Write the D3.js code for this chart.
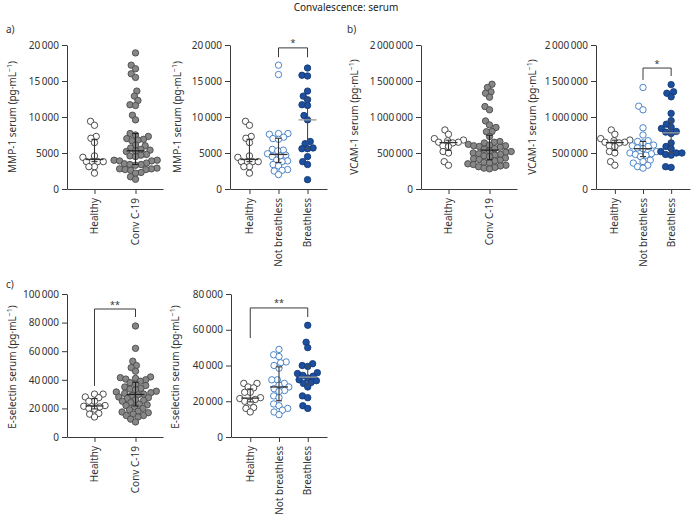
<!DOCTYPE html>
<html><head><meta charset="utf-8">
<script src="https://cdn.jsdelivr.net/npm/d3@7"></script>
<style>body{margin:0;background:#fff}svg{display:block}text{font-family:"Noto Sans",sans-serif}</style>
</head><body><svg id="chart" width="692" height="515"></svg>
<script>
// ---------------- DATA ----------------
const figureTitle = "Convalescence: serum";
const catsTwo = ["Healthy", "Conv C-19"];
const catsThree = ["Healthy", "Not breathless", "Breathless"];

const mmpTicks = [0, 5000, 10000, 15000, 20000];
const vcamTicks = [0, 500000, 1000000, 1500000, 2000000];
const eselTicksA = [0, 20000, 40000, 60000, 80000, 100000];
const eselTicksB = [0, 20000, 40000, 60000, 80000];

const mmpHealthy = [9400, 8850, 7300, 7050, 6450, 4600, 4400, 3800, 3800, 3800, 3800, 3100, 3100, 2200];
const mmpConv = [18900, 17200, 16700, 16000, 15500, 13600, 12900, 12300, 11700, 11600, 10250, 9600,
  7700, 7500, 7300, 7000, 6900, 6800, 6700, 6100, 6000, 5700, 5500, 5400, 5300, 5200, 4800, 4700, 4600,
  4500, 4000, 4000, 3900, 3900, 3600, 3500, 3400, 3400, 3300, 2900, 2800, 2800, 2700, 2700, 2600, 2300,
  2200, 1700, 1350];
const mmpNotBreathless = [17200, 15900, 7700, 7700, 7600, 7200, 7000, 6900, 5500, 5400, 5300, 4900, 4700,
  4600, 4500, 4000, 3900, 3800, 3400, 3200, 2700, 2600, 2500, 2000];
const mmpBreathless = [16800, 15800, 15700, 13600, 12900, 12400, 11700, 11600, 10200, 9600, 6600, 6300,
  5700, 5600, 5600, 4500, 3800, 3400, 1300];

const vcamHealthy = [820000, 760000, 700000, 680000, 670000, 650000, 650000, 640000, 600000, 590000,
  520000, 500000, 380000, 330000];
const vcamConv = [1455000, 1410000, 1350000, 1330000, 1275000, 1145000, 1100000, 945000, 890000, 855000,
  800000, 795000, 730000, 660000, 650000, 640000, 620000, 610000, 600000, 600000, 590000, 580000, 560000,
  550000, 530000, 520000, 510000, 500000, 490000, 480000, 470000, 460000, 450000, 430000, 420000, 410000,
  400000, 390000, 370000, 360000, 350000, 340000, 330000, 320000, 310000, 300000, 290000, 280000];
const vcamNotBreathless = [1410000, 1150000, 1100000, 850000, 750000, 670000, 660000, 640000, 610000,
  600000, 590000, 570000, 560000, 520000, 500000, 490000, 480000, 470000, 450000, 400000, 380000, 360000,
  330000, 310000, 290000];
const vcamBreathless = [1450000, 1350000, 1330000, 1280000, 1050000, 950000, 900000, 860000, 840000,
  800000, 790000, 770000, 640000, 590000, 560000, 520000, 500000, 500000, 480000, 470000, 310000, 300000];

const eselHealthy = [30000, 30000, 28000, 27500, 25000, 25000, 22000, 21500, 21000, 20000, 19500, 16500,
  16000, 14000];
const eselConv = [77600, 62000, 53000, 50000, 48500, 46000, 42000, 41500, 41000, 40500, 40000, 39000,
  38000, 37000, 36000, 35000, 34000, 33500, 33000, 32000, 31500, 31000, 30500, 30000, 29500, 29000, 28000,
  27500, 27000, 26000, 25500, 25000, 24000, 23000, 22500, 22000, 21000, 20000, 19000, 18000, 17500, 17000,
  16000, 15000, 15000, 14000, 12500, 10500];
const eselNotBreathless = [49000, 46000, 45000, 42000, 41500, 40000, 38500, 32000, 32000, 30000, 29000,
  28000, 27000, 26000, 25500, 23000, 22000, 18500, 17500, 16000, 15000, 14000, 12500];
const eselBreathless = [62500, 53000, 50000, 41000, 40000, 39500, 36000, 35500, 34500, 34000, 33000,
  32000, 31500, 30500, 30000, 28000, 23000, 22000, 17500, 16000];

// significance brackets: [from, to, top value, left end value, right end value, label]
const mmpSig = ["Not breathless", "Breathless", 19600, 18300, 18300, "*"];
const vcamSig = ["Not breathless", "Breathless", 1680000, 1515000, 1570000, "*"];
const eselSigA = ["Healthy", "Conv C-19", 89500, 35700, 83900, "**"];
const eselSigB = ["Healthy", "Breathless", 72200, 55400, 67100, "**"];

// ---------------- DRAWING ----------------
const svg = d3.select("#chart");
const R = 3.2;
const styles = {
  "Healthy": {fill: "#ffffff", stroke: "#3a3a3a", bar: "#333", med: "#333"},
  "Conv C-19": {fill: "#878787", stroke: "#4a4a4a", bar: "#222", med: "#222"},
  "Not breathless": {fill: "#ffffff", stroke: "#3a78c2", bar: "#333", med: "#333"},
  "Breathless": {fill: "#1d4f9e", stroke: "#133a78", bar: "#4a4a4a", med: "#9a9a9a"}
};

svg.append("text").attr("x", 346).attr("y", 11).attr("text-anchor", "middle")
  .attr("font-size", 10).attr("fill", "#222").text(figureTitle);

const fmt = v => v < 10000 ? String(v) : String(v).replace(/\B(?=(\d{3})+(?!\d))/g, "\u2009");

function swarm(ys, d) {
  const order = d3.range(ys.length).sort((a, b) => ys[b] - ys[a]);
  const placed = [], xs = new Array(ys.length);
  for (const i of order) {
    const yi = ys[i];
    const iv = [];
    for (const p of placed) {
      const dy = Math.abs(p.y - yi);
      if (dy < d) { const w = Math.sqrt(d * d - dy * dy); iv.push([p.x - w, p.x + w]); }
    }
    const cands = [0];
    iv.forEach(([a, b]) => cands.push(a, b));
    cands.sort((a, b) => Math.abs(a) - Math.abs(b) || a - b);
    let best = 0;
    for (const c of cands) {
      if (iv.every(([a, b]) => c <= a + 1e-6 || c >= b - 1e-6)) { best = c; break; }
    }
    xs[i] = best; placed.push({x: best, y: yi});
  }
  return xs;
}

function drawPanel(p) {
  const y = d3.scaleLinear().domain([0, p.max]).range([p.yb, p.yt]);
  const x = d3.scalePoint().domain(p.cats).range([p.x0, p.x1]).padding(0.67);
  const g = svg.append("g");

  const ga = g.append("g").attr("transform", `translate(${p.x0},0)`)
    .call(d3.axisLeft(y).tickValues(p.ticks).tickFormat(fmt).tickSize(5).tickSizeOuter(0));
  const gx = g.append("g").attr("transform", `translate(0,${p.yb})`)
    .call(d3.axisBottom(x).tickSize(5).tickSizeOuter(0).tickFormat(""));
  [ga, gx].forEach(a => {
    a.attr("font-family", null).attr("font-size", null);
    a.selectAll("path,line").attr("stroke", "#3a3a3a").attr("stroke-width", 1);
    a.selectAll("text").attr("font-size", 10).attr("fill", "#333");
  });

  p.cats.forEach(c => {
    g.append("text").attr("transform", `translate(${x(c) + 3.5},${p.yb + 9}) rotate(-90)`)
      .attr("text-anchor", "end").attr("font-size", 10).attr("fill", "#333").text(c);
  });

  const t = g.append("text").attr("transform", `translate(${p.tx},${p.ty}) rotate(-90)`)
    .attr("text-anchor", "middle").attr("font-size", 10).attr("fill", "#333");
  t.append("tspan").text(p.title + " (pg\u00b7mL");
  t.append("tspan").attr("font-size", 7).attr("dy", -4).text("\u22121");
  t.append("tspan").attr("dy", 4).text(")");

  if (p.label) {
    svg.append("text").attr("x", p.lx).attr("y", p.ly).attr("font-size", 10).attr("fill", "#333").text(p.label);
  }

  p.cats.forEach((c, i) => {
    const vals = p.data[i];
    const st = styles[c];
    const ys = vals.map(v => y(v));
    const xs = swarm(ys, 5.6);
    g.append("g").selectAll("circle").data(vals).join("circle")
      .attr("cx", (d, j) => x(c) + xs[j]).attr("cy", d => y(d)).attr("r", R)
      .attr("fill", st.fill).attr("stroke", st.stroke).attr("stroke-width", 0.9);
    const s = vals.slice().sort(d3.ascending);
    const med = d3.quantile(s, 0.5), q1 = d3.quantile(s, 0.25), q3 = d3.quantile(s, 0.75);
    const cx = x(c);
    g.append("line").attr("x1", cx).attr("x2", cx).attr("y1", y(q1)).attr("y2", y(q3))
      .attr("stroke", st.bar).attr("stroke-width", 1.1);
    [q1, q3].forEach(q => g.append("line").attr("x1", cx - 3).attr("x2", cx + 3)
      .attr("y1", y(q)).attr("y2", y(q)).attr("stroke", st.bar).attr("stroke-width", 1.1));
    g.append("line").attr("x1", cx - 9).attr("x2", cx + 9).attr("y1", y(med)).attr("y2", y(med))
      .attr("stroke", st.med).attr("stroke-width", 1.3);
  });

  if (p.sig) {
    const [a, b, top, le, re, lab] = p.sig;
    g.append("path").attr("fill", "none").attr("stroke", "#3a3a3a").attr("stroke-width", 1)
      .attr("d", `M${x(a)},${y(le)}V${y(top)}H${x(b)}V${y(re)}`);
    g.append("text").attr("x", (x(a) + x(b)) / 2).attr("y", y(top) - 1.5).attr("text-anchor", "middle")
      .attr("font-size", 9).attr("fill", "#333").text(lab);
  }
}

drawPanel({x0: 67, x1: 163, yt: 45, yb: 189, max: 20000, ticks: mmpTicks, cats: catsTwo,
  data: [mmpHealthy, mmpConv], title: "MMP-1 serum", tx: 16, ty: 117, label: "a)", lx: 6, ly: 33});
drawPanel({x0: 230, x1: 327, yt: 45, yb: 189, max: 20000, ticks: mmpTicks, cats: catsThree,
  data: [mmpHealthy, mmpNotBreathless, mmpBreathless], title: "MMP-1 serum", tx: 180.5, ty: 117, sig: mmpSig});
drawPanel({x0: 421, x1: 517, yt: 45, yb: 189, max: 2000000, ticks: vcamTicks, cats: catsTwo,
  data: [vcamHealthy, vcamConv], title: "VCAM-1 serum", tx: 357.5, ty: 117, label: "b)", lx: 347, ly: 33});
drawPanel({x0: 596, x1: 690, yt: 45, yb: 189, max: 2000000, ticks: vcamTicks, cats: catsThree,
  data: [vcamHealthy, vcamNotBreathless, vcamBreathless], title: "VCAM-1 serum", tx: 535.5, ty: 117, sig: vcamSig});
drawPanel({x0: 67, x1: 163, yt: 294, yb: 437, max: 100000, ticks: eselTicksA, cats: catsTwo,
  data: [eselHealthy, eselConv], title: "E-selectin serum", tx: 16, ty: 367, label: "c)", lx: 6, ly: 288, sig: eselSigA});
drawPanel({x0: 231, x1: 327, yt: 294, yb: 437, max: 80000, ticks: eselTicksB, cats: catsThree,
  data: [eselHealthy, eselNotBreathless, eselBreathless], title: "E-selectin serum", tx: 178.5, ty: 367, sig: eselSigB});
</script></body></html>
